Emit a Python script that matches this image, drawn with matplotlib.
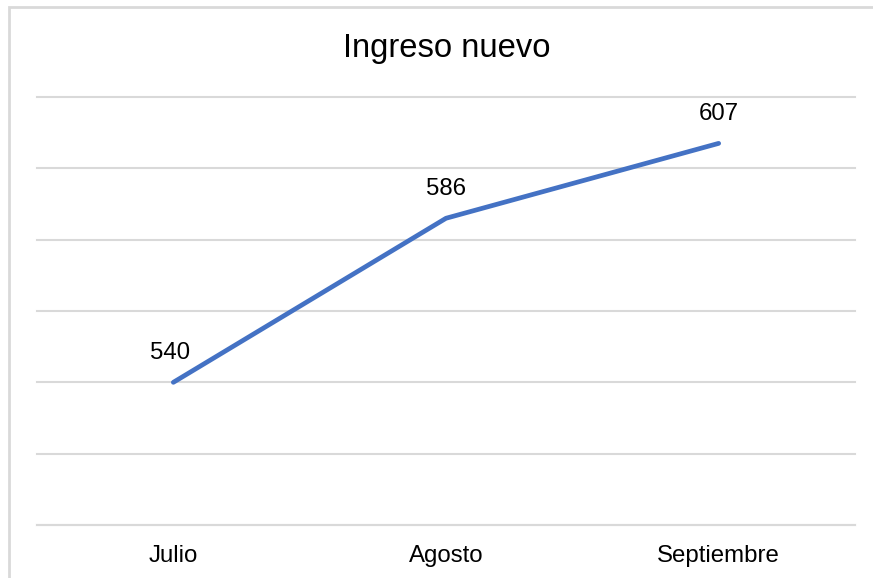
import matplotlib
matplotlib.use("Agg")

import matplotlib.pyplot as plt
from matplotlib.patches import Rectangle

months = ["Julio", "Agosto", "Septiembre"]
ingreso = [540, 586, 607]
y_ticks = [500, 520, 540, 560, 580, 600, 620]

plt.rcParams["font.family"] = ["Liberation Sans", "DejaVu Sans"]

W, H = 873, 578
fig = plt.figure(figsize=(W / 100, H / 100), dpi=100)

# chart frame (only left and top edges visible in the crop)
fig.patches.append(Rectangle((8.5 / W, -0.1), 1.2, (H - 6.5) / H + 0.1,
                             transform=fig.transFigure, fill=False,
                             edgecolor="#d9d9d9", linewidth=2))

ax = fig.add_axes([37 / W, (H - 525) / H, (855 - 37) / W, (525 - 97) / H])
x = list(range(len(months)))
ax.plot(x, ingreso, color="#4472C4", linewidth=3.4, solid_capstyle="round")

for xi, v in zip(x, ingreso):
    ax.annotate(str(v), (xi, v), xytext=(-2 if xi == 0 else 0, 16.5),
                textcoords="offset points", ha="center", va="baseline",
                fontsize=17.3, color="black")

ax.set_xlim(-0.5, len(months) - 0.5)
ax.set_ylim(y_ticks[0], y_ticks[-1])
ax.set_yticks(y_ticks)
ax.yaxis.grid(True, color="#d9d9d9", linewidth=1.5)
ax.set_axisbelow(True)
ax.tick_params(axis="y", left=False, labelleft=False)
ax.set_xticks(x)
ax.set_xticklabels(months, fontsize=17.3, color="black")
ax.tick_params(axis="x", length=0, pad=14.5)
for side in ["left", "right", "top"]:
    ax.spines[side].set_visible(False)
ax.spines["bottom"].set_color("#d9d9d9")
ax.spines["bottom"].set_linewidth(1.5)
for gl in ax.yaxis.get_gridlines():
    gl.set_clip_on(False)

fig.text(447 / W, (H - 56.7) / H, "Ingreso nuevo", ha="center", va="baseline",
         fontsize=23.6, color="black")

fig.savefig("out.png", dpi=100)
